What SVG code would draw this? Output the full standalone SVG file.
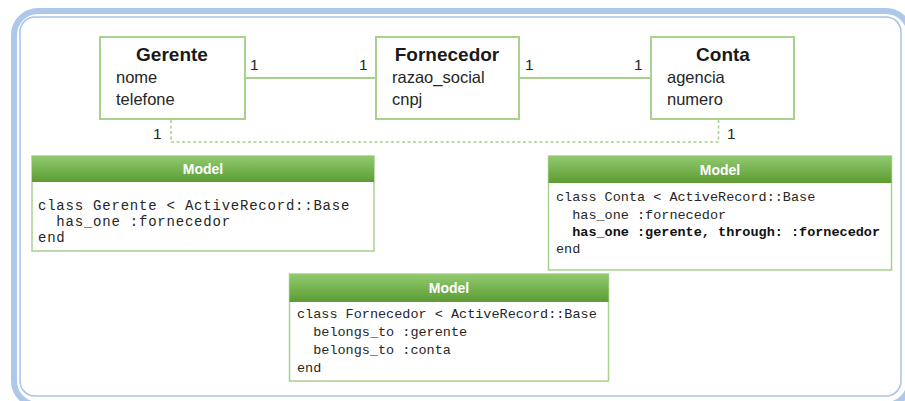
<svg xmlns="http://www.w3.org/2000/svg" width="905" height="401" viewBox="0 0 905 401">
  <defs>
    <linearGradient id="hdr" x1="0" y1="0" x2="0" y2="1">
      <stop offset="0" stop-color="#92ca70"/>
      <stop offset="1" stop-color="#5c9c33"/>
    </linearGradient>
    <style>
      .entity { fill: #ffffff; stroke: #a9d18e; stroke-width: 2; }
      .title { font-family: "Liberation Sans", Arial, sans-serif; font-weight: bold; font-size: 19px; fill: #1a1a1a; text-anchor: middle; }
      .attr { font-family: "Liberation Sans", Arial, sans-serif; font-size: 16.5px; fill: #262626; }
      .mult { font-family: "Liberation Sans", Arial, sans-serif; font-size: 15.5px; fill: #262626; }
      .link { stroke: #a9d18e; stroke-width: 2; fill: none; }
      .dash { stroke: #a9d18e; stroke-width: 1.6; fill: none; stroke-dasharray: 3 2.5; }
      .model { fill: #ffffff; stroke: #a9d18e; stroke-width: 1.5; }
      .mhead { fill: url(#hdr); }
      .mtitle { font-family: "Liberation Sans", Arial, sans-serif; font-weight: bold; font-size: 14px; fill: #ffffff; text-anchor: middle; }
      .code { font-family: "Liberation Mono", "Courier New", monospace; fill: #262626; white-space: pre; }
      .big { font-size: 14px; letter-spacing: 0.78px; }
      .small { font-size: 13.5px; }
      .b { font-weight: bold; fill: #111111; }
    </style>
  </defs>

  <rect width="905" height="401" fill="#ffffff"/>

  <!-- frame: thick band with a thin inner border -->
  <g id="frame">
    <rect x="14" y="11" width="896" height="394" rx="24" fill="none" stroke="#aec8ea" stroke-width="6"/>
    <rect x="20" y="17" width="881" height="379" rx="15" fill="#ffffff" stroke="#a9c3e8" stroke-width="1.5"/>
  </g>

  <!-- connectors -->
  <g id="connectors">
    <line class="link" x1="245" y1="78" x2="376" y2="78"/>
    <line class="link" x1="519" y1="78" x2="651" y2="78"/>
    <polyline class="dash" points="171,120 171,142 718.5,142 718.5,120"/>
    <text class="mult" x="250" y="70">1</text>
    <text class="mult" x="359" y="70">1</text>
    <text class="mult" x="525" y="70">1</text>
    <text class="mult" x="634" y="70">1</text>
    <text class="mult" x="153" y="139">1</text>
    <text class="mult" x="727" y="139">1</text>
  </g>

  <g id="gerente">
    <rect class="entity" x="100" y="37" width="145" height="82"/>
    <text class="title" x="172" y="61">Gerente</text>
    <text class="attr" x="116" y="83">nome</text>
    <text class="attr" x="116" y="105">telefone</text>
  </g>

  <g id="fornecedor">
    <rect class="entity" x="376" y="37" width="143" height="82"/>
    <text class="title" x="447" y="61">Fornecedor</text>
    <text class="attr" x="392" y="83">razao_social</text>
    <text class="attr" x="392" y="105">cnpj</text>
  </g>

  <g id="conta">
    <rect class="entity" x="651" y="37" width="143" height="82"/>
    <text class="title" x="723" y="61">Conta</text>
    <text class="attr" x="667" y="83">agencia</text>
    <text class="attr" x="667" y="105">numero</text>
  </g>

  <g id="model-gerente">
    <rect class="model" x="32" y="156" width="342" height="95"/>
    <rect class="mhead" x="32" y="156" width="342" height="26"/>
    <text class="mtitle" x="203" y="174">Model</text>
    <text class="code big" x="38" y="210">class Gerente &lt; ActiveRecord::Base</text>
    <text class="code big" x="38" y="226">  has_one :fornecedor</text>
    <text class="code big" x="38" y="242">end</text>
  </g>

  <g id="model-conta">
    <rect class="model" x="548.5" y="156" width="343" height="114"/>
    <rect class="mhead" x="548.5" y="156" width="343" height="27"/>
    <text class="mtitle" x="720" y="175">Model</text>
    <text class="code small" x="556" y="201">class Conta &lt; ActiveRecord::Base</text>
    <text class="code small" x="556" y="218.5">  has_one :fornecedor</text>
    <text class="code small b" x="556" y="236">  has_one :gerente, through: :fornecedor</text>
    <text class="code small" x="556" y="253">end</text>
  </g>

  <g id="model-fornecedor">
    <rect class="model" x="289.5" y="274" width="319" height="107"/>
    <rect class="mhead" x="289.5" y="274" width="319" height="28"/>
    <text class="mtitle" x="449" y="293">Model</text>
    <text class="code small" x="297" y="318">class Fornecedor &lt; ActiveRecord::Base</text>
    <text class="code small" x="297" y="335.5">  belongs_to :gerente</text>
    <text class="code small" x="297" y="353.5">  belongs_to :conta</text>
    <text class="code small" x="297" y="371.5">end</text>
  </g>
</svg>
